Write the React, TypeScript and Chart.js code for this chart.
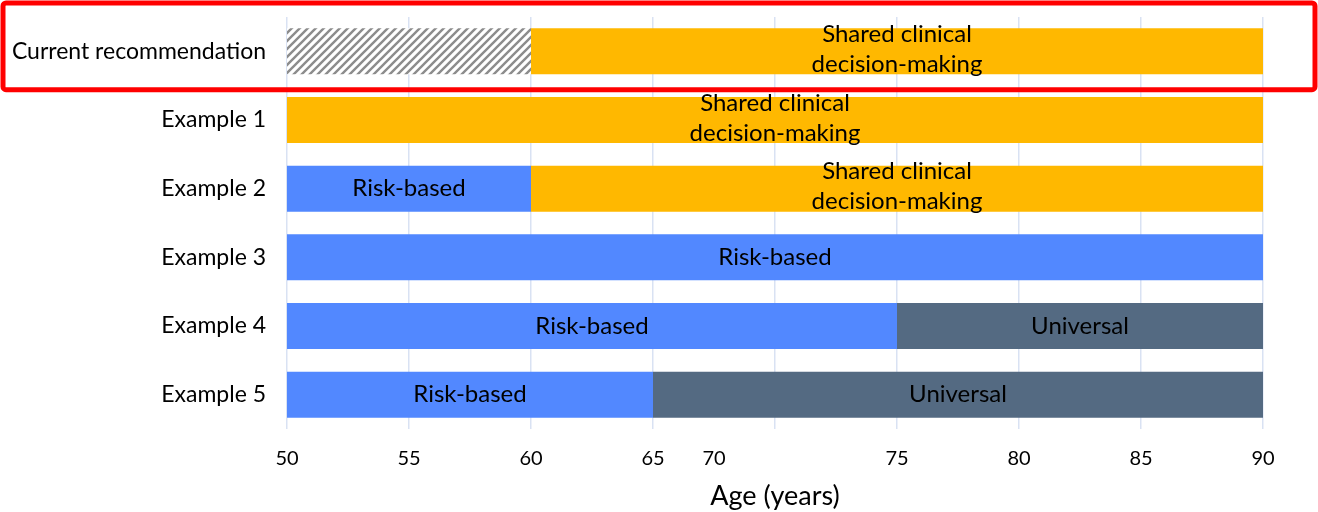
import React, { useEffect, useRef } from 'react';
import { Chart, registerables } from 'chart.js';

Chart.register(...registerables);

// Rows of the chart, top to bottom
const CATEGORIES = [
  'Current recommendation',
  'Example 1',
  'Example 2',
  'Example 3',
  'Example 4',
  'Example 5',
];

// Age ranges [from, to] for each screening approach, one entry per row
const NOT_RECOMMENDED = [[50, 60], null, null, null, null, null];
const RISK_BASED = [null, null, [50, 60], [50, 90], [50, 75], [50, 65]];
const SHARED_DECISION = [[60, 90], [50, 90], [60, 90], null, null, null];
const UNIVERSAL = [null, null, null, null, [75, 90], [65, 90]];

// Text written inside each kind of segment
const RISK_TEXT = ['Risk-based'];
const SHARED_TEXT = ['Shared clinical', 'decision-making'];
const UNIVERSAL_TEXT = ['Universal'];

// Age axis
const AGE_MIN = 50;
const AGE_MAX = 90;
const AGE_STEP = 5;
const TICK_VALUES = [50, 55, 60, 65, 67.5, 75, 80, 85, 90];
const TICK_LABELS = ['50', '55', '60', '65', '70', '75', '80', '85', '90'];
const AXIS_TITLE = 'Age (years)';

const FONT = 'Lato';

function makeHatch(): CanvasPattern | string {
  const size = 8;
  const c = document.createElement('canvas');
  c.width = size;
  c.height = size;
  const g = c.getContext('2d');
  if (!g) return '#bbbbbb';
  g.fillStyle = '#ffffff';
  g.fillRect(0, 0, size, size);
  g.strokeStyle = '#8c8c8c';
  g.lineWidth = 2.4;
  g.lineCap = 'square';
  g.beginPath();
  g.moveTo(0, size);
  g.lineTo(size, 0);
  g.moveTo(-size / 2, size / 2);
  g.lineTo(size / 2, -size / 2);
  g.moveTo(size / 2, size * 1.5);
  g.lineTo(size * 1.5, size / 2);
  g.stroke();
  const p = g.createPattern(c, 'repeat');
  return p || '#bbbbbb';
}

// Writes the segment text centred on each bar
const segmentTextPlugin = {
  id: 'segmentText',
  afterDatasetsDraw(chart: any) {
    const ctx = chart.ctx;
    ctx.save();
    ctx.font = `24px ${FONT}`;
    ctx.fillStyle = '#000000';
    ctx.textAlign = 'center';
    ctx.textBaseline = 'middle';
    chart.data.datasets.forEach((ds: any, i: number) => {
      const lines: string[] | undefined = ds.segmentText;
      if (!lines) return;
      const meta = chart.getDatasetMeta(i);
      meta.data.forEach((bar: any, j: number) => {
        if (ds.data[j] == null) return;
        const { x, y, base } = bar.getProps(['x', 'y', 'base'], true);
        const cx = (x + base) / 2;
        const lh = 30;
        const start = y - ((lines.length - 1) * lh) / 2 - (lines.length > 1 ? 2 : 0);
        lines.forEach((t, k) => ctx.fillText(t, cx, start + k * lh));
      });
    });
    ctx.restore();
  },
};

// Age labels under the plot
const ageTicksPlugin = {
  id: 'ageTicks',
  afterDraw(chart: any) {
    const ctx = chart.ctx;
    const xs = chart.scales.x;
    ctx.save();
    ctx.font = `20px ${FONT}`;
    ctx.fillStyle = '#000000';
    ctx.textAlign = 'center';
    ctx.textBaseline = 'alphabetic';
    TICK_VALUES.forEach((v, i) => {
      ctx.fillText(TICK_LABELS[i], xs.getPixelForValue(v), chart.chartArea.bottom + 36);
    });
    ctx.restore();
  },
};

// Red frame around the first row
const highlightPlugin = {
  id: 'highlightRow',
  afterDraw(chart: any) {
    const ctx = chart.ctx;
    const ys = chart.scales.y;
    const y0 = ys.getPixelForValue(0);
    const band = ys.getPixelForValue(1) - y0;
    const lw = 5;
    const left = lw / 2 + 0.5;
    const top = lw / 2 + 0.5;
    const right = chart.width - lw / 2 - 0.5;
    const bottom = y0 + band / 2 + 4;
    ctx.save();
    ctx.strokeStyle = '#ff0000';
    ctx.lineWidth = lw;
    ctx.beginPath();
    if (ctx.roundRect) ctx.roundRect(left, top, right - left, bottom - top, 3);
    else ctx.rect(left, top, right - left, bottom - top);
    ctx.stroke();
    ctx.restore();
  },
};

export default function App() {
  const ref = useRef<HTMLCanvasElement | null>(null);

  useEffect(() => {
    if (!ref.current) return;
    const barCommon = {
      grouped: false,
      categoryPercentage: 1,
      barPercentage: 0.67,
      borderWidth: 0,
      borderSkipped: false,
    };
    const chart = new Chart(ref.current, {
      type: 'bar',
      data: {
        labels: CATEGORIES,
        datasets: [
          { ...barCommon, label: 'Not recommended', data: NOT_RECOMMENDED as any, backgroundColor: makeHatch() as any },
          { ...barCommon, label: 'Risk-based', data: RISK_BASED as any, backgroundColor: '#5288ff', segmentText: RISK_TEXT } as any,
          { ...barCommon, label: 'Shared clinical decision-making', data: SHARED_DECISION as any, backgroundColor: '#ffb800', segmentText: SHARED_TEXT } as any,
          { ...barCommon, label: 'Universal', data: UNIVERSAL as any, backgroundColor: '#546a82', segmentText: UNIVERSAL_TEXT } as any,
        ],
      },
      options: {
        indexAxis: 'y',
        responsive: true,
        maintainAspectRatio: false,
        animation: false,
        layout: { padding: { left: 0, right: 55, top: 17, bottom: 0 } },
        plugins: {
          legend: { display: false },
          tooltip: { enabled: false },
        },
        scales: {
          x: {
            type: 'linear',
            min: AGE_MIN,
            max: AGE_MAX,
            ticks: { stepSize: AGE_STEP, display: false },
            grid: { color: '#d9e2f3', lineWidth: 1.5, drawTicks: false },
            border: { display: false },
            title: {
              display: true,
              text: AXIS_TITLE,
              color: '#000000',
              font: { family: FONT, size: 27 },
              padding: { top: 0, bottom: 0 },
            },
            afterFit(scale: any) {
              scale.height = 83;
            },
          },
          y: {
            type: 'category',
            grid: { display: false, drawTicks: false },
            border: { display: false },
            ticks: {
              color: '#000000',
              font: { family: FONT, size: 23 },
              padding: 21,
            },
            afterFit(scale: any) {
              scale.width = 287;
              scale.paddingTop = 0;
              scale.paddingBottom = 0;
            },
          },
        },
      } as any,
      plugins: [segmentTextPlugin, ageTicksPlugin, highlightPlugin],
    });
    return () => chart.destroy();
  }, []);

  return (
    <div style={{ position: 'absolute', left: 0, top: 0, width: 1318, height: 512, background: '#ffffff' }}>
      <canvas ref={ref} />
    </div>
  );
}
